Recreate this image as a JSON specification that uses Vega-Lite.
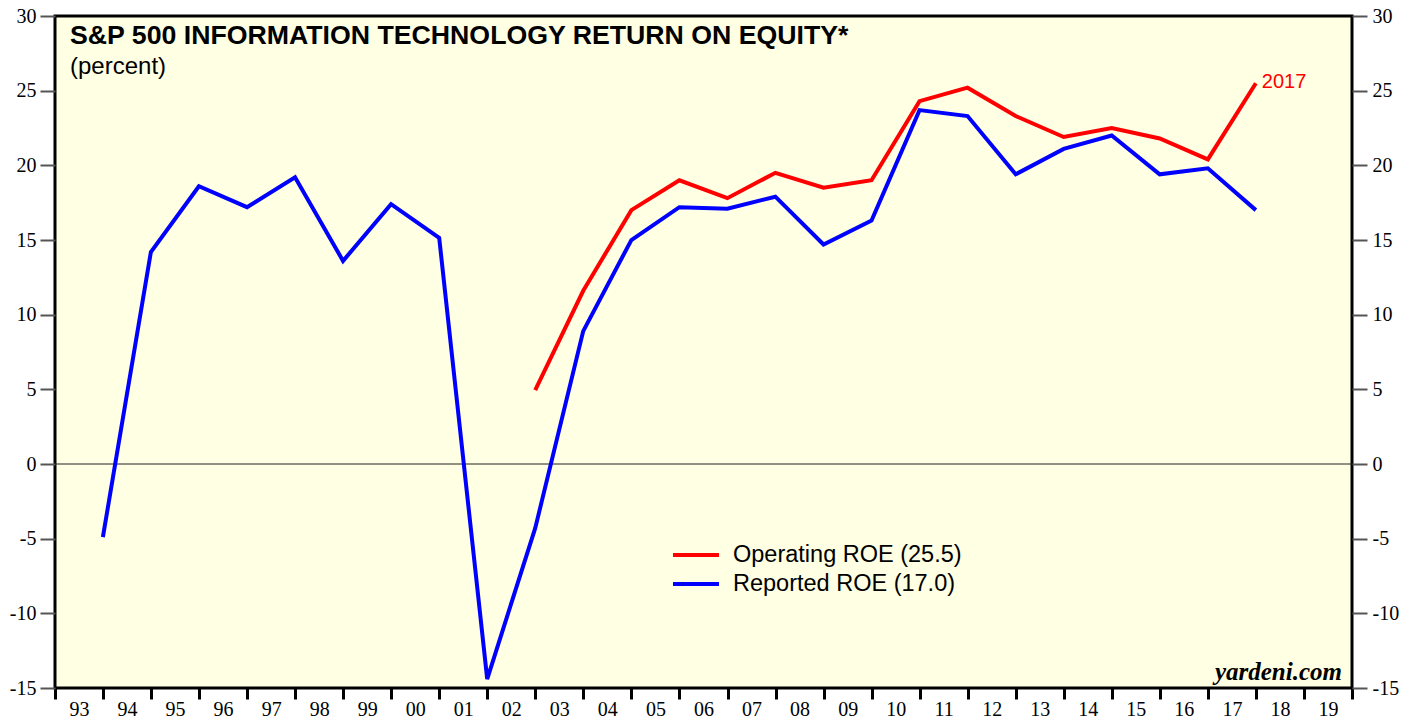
{
  "$schema": "https://vega.github.io/schema/vega-lite/v6.json",
  "width": 1297,
  "height": 672,
  "autosize": {"type": "none"},
  "padding": {"left": 55, "top": 16, "right": 65, "bottom": 31},
  "background": "white",
  "config": {
    "view": {"fill": "#FFFFE3", "stroke": "black", "strokeWidth": 3},
    "font": "Liberation Sans"
  },
  "title": {
    "text": "S&P 500 INFORMATION TECHNOLOGY RETURN ON EQUITY*",
    "subtitle": "(percent)",
    "anchor": "start",
    "frame": "group",
    "offset": -73,
    "dx": 15,
    "font": "Liberation Sans",
    "fontSize": 26.7,
    "fontWeight": "bold",
    "color": "black",
    "subtitleFont": "Liberation Sans",
    "subtitleFontSize": 24,
    "subtitleColor": "black",
    "subtitlePadding": 5
  },
  "datasets": {
    "roe": [
      {"date": "1993-12-31", "series": "Reported ROE (17.0)", "value": -4.9},
      {"date": "1994-12-31", "series": "Reported ROE (17.0)", "value": 14.2},
      {"date": "1995-12-31", "series": "Reported ROE (17.0)", "value": 18.6},
      {"date": "1996-12-31", "series": "Reported ROE (17.0)", "value": 17.2},
      {"date": "1997-12-31", "series": "Reported ROE (17.0)", "value": 19.2},
      {"date": "1998-12-31", "series": "Reported ROE (17.0)", "value": 13.6},
      {"date": "1999-12-31", "series": "Reported ROE (17.0)", "value": 17.4},
      {"date": "2000-12-31", "series": "Reported ROE (17.0)", "value": 15.15},
      {"date": "2001-12-31", "series": "Reported ROE (17.0)", "value": -14.4},
      {"date": "2002-12-31", "series": "Reported ROE (17.0)", "value": -4.3},
      {"date": "2003-12-31", "series": "Reported ROE (17.0)", "value": 8.9},
      {"date": "2004-12-31", "series": "Reported ROE (17.0)", "value": 15.0},
      {"date": "2005-12-31", "series": "Reported ROE (17.0)", "value": 17.2},
      {"date": "2006-12-31", "series": "Reported ROE (17.0)", "value": 17.1},
      {"date": "2007-12-31", "series": "Reported ROE (17.0)", "value": 17.9},
      {"date": "2008-12-31", "series": "Reported ROE (17.0)", "value": 14.7},
      {"date": "2009-12-31", "series": "Reported ROE (17.0)", "value": 16.3},
      {"date": "2010-12-31", "series": "Reported ROE (17.0)", "value": 23.7},
      {"date": "2011-12-31", "series": "Reported ROE (17.0)", "value": 23.3},
      {"date": "2012-12-31", "series": "Reported ROE (17.0)", "value": 19.4},
      {"date": "2013-12-31", "series": "Reported ROE (17.0)", "value": 21.1},
      {"date": "2014-12-31", "series": "Reported ROE (17.0)", "value": 22.0},
      {"date": "2015-12-31", "series": "Reported ROE (17.0)", "value": 19.4},
      {"date": "2016-12-31", "series": "Reported ROE (17.0)", "value": 19.8},
      {"date": "2017-12-31", "series": "Reported ROE (17.0)", "value": 17.0},
      {"date": "2002-12-31", "series": "Operating ROE (25.5)", "value": 4.95},
      {"date": "2003-12-31", "series": "Operating ROE (25.5)", "value": 11.6},
      {"date": "2004-12-31", "series": "Operating ROE (25.5)", "value": 17.0},
      {"date": "2005-12-31", "series": "Operating ROE (25.5)", "value": 19.0},
      {"date": "2006-12-31", "series": "Operating ROE (25.5)", "value": 17.8},
      {"date": "2007-12-31", "series": "Operating ROE (25.5)", "value": 19.5},
      {"date": "2008-12-31", "series": "Operating ROE (25.5)", "value": 18.5},
      {"date": "2009-12-31", "series": "Operating ROE (25.5)", "value": 19.0},
      {"date": "2010-12-31", "series": "Operating ROE (25.5)", "value": 24.3},
      {"date": "2011-12-31", "series": "Operating ROE (25.5)", "value": 25.2},
      {"date": "2012-12-31", "series": "Operating ROE (25.5)", "value": 23.3},
      {"date": "2013-12-31", "series": "Operating ROE (25.5)", "value": 21.9},
      {"date": "2014-12-31", "series": "Operating ROE (25.5)", "value": 22.5},
      {"date": "2015-12-31", "series": "Operating ROE (25.5)", "value": 21.8},
      {"date": "2016-12-31", "series": "Operating ROE (25.5)", "value": 20.4},
      {"date": "2017-12-31", "series": "Operating ROE (25.5)", "value": 25.5}
    ]
  },
  "layer": [
    {
      "data": {"values": [{"zero": 0}]},
      "mark": {"type": "rule", "color": "#222222", "strokeWidth": 1},
      "encoding": {
        "y": {
          "field": "zero",
          "type": "quantitative",
          "scale": {"domain": [-15, 30], "nice": false, "zero": false},
          "axis": {
            "orient": "right",
            "values": [-15, -10, -5, 0, 5, 10, 15, 20, 25, 30],
            "labelExpr": "toString(datum.value)",
            "tickSize": 15,
            "tickWidth": 2,
            "tickColor": "#555555",
            "domain": false,
            "grid": false,
            "title": null,
            "labelFont": "Liberation Serif",
            "labelFontSize": 20,
            "labelColor": "black",
            "labelPadding": 5
          }
        }
      }
    },
    {
      "data": {"name": "roe"},
      "mark": {"type": "line", "strokeWidth": 4, "strokeCap": "butt"},
      "encoding": {
        "x": {
          "field": "date",
          "type": "temporal",
          "scale": {"domain": [{"year": 1993, "month": 1, "date": 1}, {"year": 2020, "month": 1, "date": 1}]},
          "axis": {
            "values": [
              {"year": 1993, "month": 1, "date": 1}, {"year": 1994, "month": 1, "date": 1},
              {"year": 1995, "month": 1, "date": 1}, {"year": 1996, "month": 1, "date": 1},
              {"year": 1997, "month": 1, "date": 1}, {"year": 1998, "month": 1, "date": 1},
              {"year": 1999, "month": 1, "date": 1}, {"year": 2000, "month": 1, "date": 1},
              {"year": 2001, "month": 1, "date": 1}, {"year": 2002, "month": 1, "date": 1},
              {"year": 2003, "month": 1, "date": 1}, {"year": 2004, "month": 1, "date": 1},
              {"year": 2005, "month": 1, "date": 1}, {"year": 2006, "month": 1, "date": 1},
              {"year": 2007, "month": 1, "date": 1}, {"year": 2008, "month": 1, "date": 1},
              {"year": 2009, "month": 1, "date": 1}, {"year": 2010, "month": 1, "date": 1},
              {"year": 2011, "month": 1, "date": 1}, {"year": 2012, "month": 1, "date": 1},
              {"year": 2013, "month": 1, "date": 1}, {"year": 2014, "month": 1, "date": 1},
              {"year": 2015, "month": 1, "date": 1}, {"year": 2016, "month": 1, "date": 1},
              {"year": 2017, "month": 1, "date": 1}, {"year": 2018, "month": 1, "date": 1},
              {"year": 2019, "month": 1, "date": 1}, {"year": 2020, "month": 1, "date": 1}
            ],
            "labelExpr": "year(datum.value) >= 2020 ? '' : timeFormat(datum.value, '%y')",
            "labelOffset": 24,
            "labelFlush": false,
            "labelOverlap": false,
            "labelBound": false,
            "labelBaseline": "alphabetic",
            "tickSize": 11,
            "tickWidth": 3,
            "tickColor": "black",
            "domain": false,
            "grid": false,
            "title": null,
            "labelFont": "Liberation Serif",
            "labelFontSize": 20,
            "labelColor": "black",
            "labelPadding": 16
          }
        },
        "y": {
          "field": "value",
          "type": "quantitative",
          "scale": {"domain": [-15, 30], "nice": false, "zero": false},
          "axis": {
            "orient": "left",
            "values": [-15, -10, -5, 0, 5, 10, 15, 20, 25, 30],
            "labelExpr": "toString(datum.value)",
            "tickSize": 15,
            "tickWidth": 2,
            "tickColor": "#555555",
            "domain": false,
            "grid": false,
            "title": null,
            "labelFont": "Liberation Serif",
            "labelFontSize": 20,
            "labelColor": "black",
            "labelPadding": 4
          }
        },
        "color": {
          "field": "series",
          "type": "nominal",
          "scale": {"domain": ["Operating ROE (25.5)", "Reported ROE (17.0)"], "range": ["#FF0000", "#0000FF"]},
          "legend": {
            "orient": "none",
            "legendX": 629,
            "legendY": 527,
            "padding": 0,
            "title": null,
            "symbolType": "M-2.3,0H2.3",
            "symbolSize": 400,
            "symbolStrokeWidth": 4,
            "symbolFillColor": "transparent",
            "labelFont": "Liberation Sans",
            "labelFontSize": 23.5,
            "labelColor": "black",
            "labelLimit": 500,
            "labelOffset": 25,
            "rowPadding": 5
          }
        }
      }
    },
    {
      "data": {"values": [{"date": "2017-12-31", "value": 25.5, "label": "2017"}]},
      "mark": {"type": "text", "align": "left", "baseline": "middle", "dx": 6, "dy": -1, "color": "#FF0000", "font": "Liberation Sans", "fontSize": 20},
      "encoding": {
        "x": {"field": "date", "type": "temporal"},
        "y": {"field": "value", "type": "quantitative", "axis": null},
        "text": {"field": "label"}
      }
    },
    {
      "data": {"values": [{"date": "2020-01-01", "value": -15, "label": "yardeni.com"}]},
      "mark": {"type": "text", "align": "right", "baseline": "alphabetic", "dx": -10, "dy": -8, "color": "black", "font": "Liberation Serif", "fontSize": 25, "fontStyle": "italic", "fontWeight": "bold"},
      "encoding": {
        "x": {"field": "date", "type": "temporal"},
        "y": {"field": "value", "type": "quantitative", "axis": null},
        "text": {"field": "label"}
      }
    }
  ],
  "resolve": {"axis": {"y": "independent"}}
}
